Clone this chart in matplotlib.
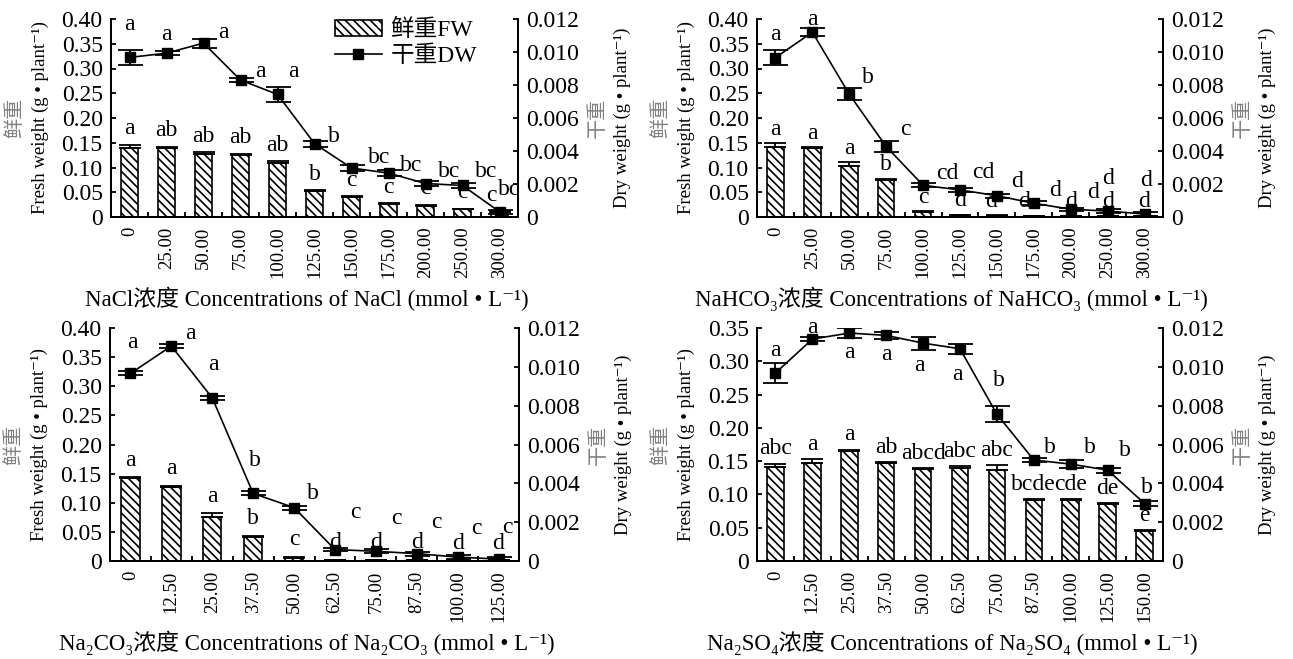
import matplotlib
matplotlib.use('Agg')
import matplotlib.pyplot as plt
from matplotlib.patches import Patch
from matplotlib.lines import Line2D
import numpy as np

plt.rcParams['font.family'] = ['Liberation Serif', 'Noto Sans CJK SC', 'DejaVu Serif']
plt.rcParams['hatch.linewidth'] = 1.2
plt.rcParams['font.size'] = 15

# ---------------- data ----------------
# NaCl
nacl_conc = ["0", "25.00", "50.00", "75.00", "100.00", "125.00", "150.00", "175.00", "200.00", "250.00", "300.00"]
nacl_fw = [0.140, 0.140, 0.128, 0.126, 0.110, 0.052, 0.040, 0.026, 0.023, 0.016, 0.011]
nacl_fw_err = [0.006, 0.002, 0.003, 0.002, 0.003, 0.002, 0.002, 0.002, 0.002, 0.001, 0.001]
nacl_dw = [0.00967, 0.00993, 0.01054, 0.00830, 0.00743, 0.00445, 0.00297, 0.00266, 0.00203, 0.00191, 0.00032]
nacl_dw_err = [0.00047, 0.00012, 0.00027, 0.00012, 0.00045, 0.00018, 0.00018, 0.00016, 0.00016, 0.00016, 0.00012]
nacl_fw_sig = ["a", "ab", "ab", "ab", "ab", "b", "c", "c", "c", "c", "c"]
nacl_dw_sig = ["a", "a", "a", "a", "a", "b", "bc", "bc", "bc", "bc", "bc"]

# NaHCO3
nahco3_conc = ["0", "25.00", "50.00", "75.00", "100.00", "125.00", "150.00", "175.00", "200.00", "250.00", "300.00"]
nahco3_fw = [0.141, 0.140, 0.104, 0.075, 0.011, 0.004, 0.003, 0.002, 0.002, 0.002, 0.002]
nahco3_fw_err = [0.0075, 0.001, 0.007, 0.002, 0.001, 0.001, 0.0005, 0.0005, 0.0005, 0.0005, 0.0005]
nahco3_dw = [0.00966, 0.01120, 0.00744, 0.00427, 0.00192, 0.00164, 0.00129, 0.00083, 0.00047, 0.00036, 0.00018]
nahco3_dw_err = [0.00047, 0.00023, 0.00035, 0.00036, 0.00012, 0.00012, 0.00012, 0.00012, 0.0001, 0.0001, 0.0001]
nahco3_fw_sig = ["a", "a", "a", "b", "c", "d", "d", "d", "d", "d", "d"]
nahco3_dw_sig = ["a", "a", "b", "c", "cd", "cd", "d", "d", "d", "d", "d"]

# Na2CO3
na2co3_conc = ["0", "12.50", "25.00", "37.50", "50.00", "62.50", "75.00", "87.50", "100.00", "125.00"]
na2co3_fw = [0.142, 0.127, 0.076, 0.041, 0.006, 0.002, 0.002, 0.002, 0.001, 0.001]
na2co3_fw_err = [0.002, 0.002, 0.006, 0.002, 0.001, 0.0005, 0.0005, 0.0005, 0.0005, 0.0005]
na2co3_dw = [0.00966, 0.01107, 0.00840, 0.00348, 0.00275, 0.00059, 0.00050, 0.00038, 0.00020, 0.00010]
na2co3_dw_err = [0.0001, 0.0001, 0.00012, 0.0001, 0.0001, 0.0001, 0.0001, 0.0001, 0.0001, 0.0001]
na2co3_fw_sig = ["a", "a", "a", "b", "c", "d", "d", "d", "d", "d"]
na2co3_dw_sig = ["a", "a", "a", "b", "b", "c", "c", "c", "c", "c"]

# Na2SO4
na2so4_conc = ["0", "12.50", "25.00", "37.50", "50.00", "62.50", "75.00", "87.50", "100.00", "125.00", "150.00"]
na2so4_fw = [0.141, 0.147, 0.165, 0.147, 0.138, 0.140, 0.137, 0.092, 0.091, 0.086, 0.045]
na2so4_fw_err = [0.005, 0.006, 0.002, 0.001, 0.001, 0.002, 0.0065, 0.001, 0.002, 0.001, 0.001]
na2so4_dw = [0.00968, 0.01143, 0.01174, 0.01162, 0.01122, 0.01093, 0.00756, 0.00520, 0.00499, 0.00468, 0.00296]
na2so4_dw_err = [0.0005, 0.0001, 0.00028, 0.00018, 0.00034, 0.00026, 0.0004, 0.0001, 0.0002, 0.00013, 0.00015]
na2so4_fw_sig = ["abc", "a", "a", "ab", "abcd", "abc", "abc", "bcde", "cde", "de", "e"]
na2so4_dw_sig = ["a", "a", "a", "a", "a", "a", "b", "b", "b", "b", "b"]

left_ticks_040 = [0, 0.05, 0.10, 0.15, 0.20, 0.25, 0.30, 0.35, 0.40]
left_labels_040 = ["0", "0.05", "0.10", "0.15", "0.20", "0.25", "0.30", "0.35", "0.40"]
left_ticks_035 = [0, 0.05, 0.10, 0.15, 0.20, 0.25, 0.30, 0.35]
left_labels_035 = ["0", "0.05", "0.10", "0.15", "0.20", "0.25", "0.30", "0.35"]
right_ticks = [0, 0.002, 0.004, 0.006, 0.008, 0.010, 0.012]
right_labels = ["0", "0.002", "0.004", "0.006", "0.008", "0.010", "0.012"]

xlabels = ["NaCl浓度 Concentrations of NaCl (mmol • L⁻¹)",
           "NaHCO₃浓度 Concentrations of NaHCO₃ (mmol • L⁻¹)",
           "Na₂CO₃浓度 Concentrations of Na₂CO₃ (mmol • L⁻¹)",
           "Na₂SO₄浓度 Concentrations of Na₂SO₄ (mmol • L⁻¹)"]

# ---------------- layout / style ----------------
W, H = 1293, 659
HATCH = '\\\\\\\\'
rects_px = [(111, 19, 518, 217), (757, 19, 1163, 217), (110, 328, 519, 561), (757, 328, 1163, 561)]

# per-point offsets (pixels) for dry-weight letters
dw_offsets = [
    [(0, 33), (0, 19), (20, 11), (20, 9), (16, 23), (19, 7), (28, 10), (23, 8), (24, 12), (24, 14), (10, 22)],
    [(0, 23), (0, 13), (19, 17), (19, 17), (24, 12), (23, 17), (20, 14), (21, 13), (22, 17), (0, 33), (2, 34)],
    [(2, 31), (19, 13), (1, 33), (2, 33), (19, 14), (20, 37), (21, 33), (20, 31), (19, 29), (9, 32)],
    [(0, 23), (0, 12), (0, -19), (0, -19), (-4, -22), (-3, -26), (2, 34), (16, 13), (19, 17), (17, 20), (2, 16)],
]
fw_gap = [16, 14, 17, 15]
# horizontal nudges (pixels) for fresh-weight letters
fw_dx = [
    [0, 0, 0, 0, 0, 0, 0, 0, 0, 0, -8],
    [0, 0, 0, 0, 0, 0, -6, -10, 0, 0, 0],
    [0] * 10,
    [0] * 11,
]

panels = [
    (nacl_conc, nacl_fw, nacl_fw_err, nacl_dw, nacl_dw_err, nacl_fw_sig, nacl_dw_sig, 0.40, left_ticks_040, left_labels_040),
    (nahco3_conc, nahco3_fw, nahco3_fw_err, nahco3_dw, nahco3_dw_err, nahco3_fw_sig, nahco3_dw_sig, 0.40, left_ticks_040, left_labels_040),
    (na2co3_conc, na2co3_fw, na2co3_fw_err, na2co3_dw, na2co3_dw_err, na2co3_fw_sig, na2co3_dw_sig, 0.40, left_ticks_040, left_labels_040),
    (na2so4_conc, na2so4_fw, na2so4_fw_err, na2so4_dw, na2so4_dw_err, na2so4_fw_sig, na2so4_dw_sig, 0.35, left_ticks_035, left_labels_035),
]

fig = plt.figure(figsize=(W / 100, H / 100), dpi=100)
SPW = 1.3
FS_H = 17      # horizontal texts
FS_V = 13.5    # rotated texts
FS_XL = 16.5
GREY = '#808080'

for k, (conc, fw, fwe, dw, dwe, fsig, dsig, ymax, lt, ll) in enumerate(panels):
    l, t, r, b = rects_px[k]
    ax = fig.add_axes([l / W, 1 - b / H, (r - l) / W, (b - t) / H])
    n = len(conc)
    x = np.arange(n)
    ax.bar(x, fw, width=0.45, color='white', edgecolor='black', hatch=HATCH, linewidth=1.2,
           yerr=[np.zeros(n), fwe], capsize=8,
           error_kw=dict(elinewidth=1.3, capthick=1.3, ecolor='black'), zorder=2)
    ax.set_xlim(-0.5, n - 0.5)
    ax.set_ylim(0, ymax)
    ax.set_yticks(lt)
    ax.set_yticklabels(ll, fontsize=FS_H)
    ax.set_xticks(x)
    ax.set_xticklabels(conc, rotation=90, fontsize=FS_V)
    ax.set_xticks(np.arange(n - 1) + 0.5, minor=True)
    ax.tick_params(axis='x', which='major', length=0, pad=7)
    ax.tick_params(axis='x', which='minor', direction='in', length=3.6, width=SPW)
    ax.tick_params(axis='y', direction='in', length=3.6, width=SPW, pad=6)
    for s in ['left', 'right', 'bottom']:
        ax.spines[s].set_linewidth(SPW)
    ax.spines['top'].set_visible(False)

    for i in range(n):
        ax.annotate(fsig[i], xy=(i, fw[i] + fwe[i]), xytext=(fw_dx[k][i], fw_gap[k]), textcoords='offset pixels',
                    ha='center', va='center', fontsize=FS_H)

    ax2 = ax.twinx()
    ax2.errorbar(x, dw, yerr=dwe, fmt='-s', color='black', markersize=6.5, lw=1.2,
                 capsize=9, elinewidth=1.3, capthick=1.3, zorder=3)
    ax2.set_ylim(0, 0.012)
    ax2.set_yticks(right_ticks)
    ax2.set_yticklabels(right_labels, fontsize=FS_H)
    ax2.tick_params(axis='y', direction='in', length=3.6, width=SPW, pad=6)
    for s in ['left', 'right', 'bottom']:
        ax2.spines[s].set_linewidth(SPW)
    ax2.spines['top'].set_visible(False)
    for i in range(n):
        dx, dy = dw_offsets[k][i]
        ax2.annotate(dsig[i], xy=(i, dw[i]), xytext=(dx, dy), textcoords='offset pixels',
                     ha='center', va='center', fontsize=FS_H)

    # axis labels
    ax.annotate("鲜重", xy=(0, 0.5), xycoords='axes fraction', xytext=(-95, 0), textcoords='offset pixels',
                rotation=90, ha='center', va='center', fontsize=14.5, color=GREY)
    ax.annotate("Fresh weight (g • plant⁻¹)", xy=(0, 0.5), xycoords='axes fraction', xytext=(-71, 0),
                textcoords='offset pixels', rotation=90, ha='center', va='center', fontsize=FS_V)
    ax.annotate("干重", xy=(1, 0.5), xycoords='axes fraction', xytext=(80, 0), textcoords='offset pixels',
                rotation=90, ha='center', va='center', fontsize=14.5, color=GREY)
    ax.annotate("Dry weight (g • plant⁻¹)", xy=(1, 0.5), xycoords='axes fraction', xytext=(104, 0),
                textcoords='offset pixels', rotation=90, ha='center', va='center', fontsize=FS_V)
    ax.annotate(xlabels[k], xy=(0.48, 0), xycoords='axes fraction', xytext=(0, -82),
                textcoords='offset pixels', ha='center', va='center', fontsize=FS_XL)

    if k == 0:
        h1 = Patch(facecolor='white', edgecolor='black', hatch=HATCH, linewidth=1.2)
        h2 = Line2D([], [], color='black', marker='s', markersize=6.5, lw=1.2)
        ax2.legend([h1, h2], ["鲜重FW", "干重DW"], loc='upper left', bbox_to_anchor=(0.55, 1.0),
                   frameon=False, borderpad=0, borderaxespad=0, handlelength=2.0, handletextpad=0.35,
                   labelspacing=0.2, fontsize=FS_H)

fig.savefig('out.png', dpi=100)
